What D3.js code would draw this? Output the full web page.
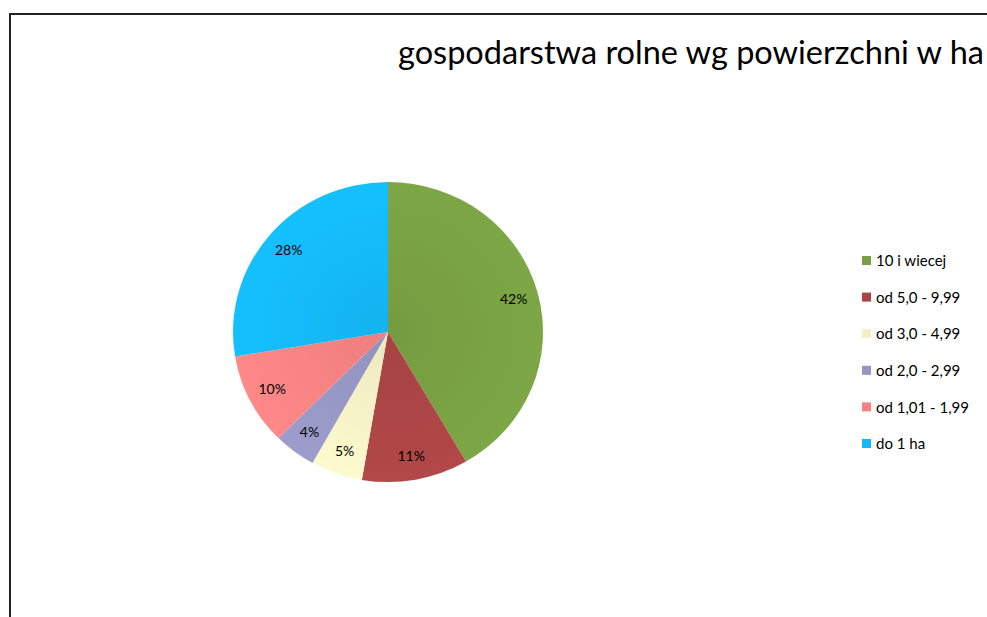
<!DOCTYPE html>
<meta charset="utf-8">
<html>
<head>
    <script src="https://d3js.org/d3.v7.min.js"></script>
    <style>
      body { margin: 0; background: #fff; }
      svg text { font-family: Lato, "Open Sans", sans-serif; fill: #000; }
    </style>
</head>
<body>
<div id="chart"></div>

<script>
    // data
    const categories = ["10 i wiecej", "od 5,0 - 9,99", "od 3,0 - 4,99", "od 2,0 - 2,99", "od 1,01 - 1,99", "do 1 ha"];
    const shares = [41.6, 11.1, 5.4, 4.4, 9.9, 27.6];
    const colors = ["#78a043", "#ab4545", "#f2f0c4", "#9696c4", "#f58282", "#14b8f5"];
    const title = "gospodarstwa rolne wg powierzchni w ha";

    const width = 987, height = 617;

    const svg = d3.select("#chart")
        .append("svg")
        .attr("width", width)
        .attr("height", height);

    // frame (cut off at right and bottom)
    svg.append("path")
        .attr("d", "M10,620 L10,14 L990,14")
        .attr("fill", "none")
        .attr("stroke", "#222")
        .attr("stroke-width", 2);

    svg.append("text")
        .attr("x", 398)
        .attr("y", 64)
        .style("font-size", "32.5px")
        .text(title);

    // soft gradients like the office chart
    const defs = svg.append("defs");
    colors.forEach((c, i) => {
        const g = defs.append("radialGradient")
            .attr("id", "grad" + i)
            .attr("gradientUnits", "userSpaceOnUse")
            .attr("cx", 0).attr("cy", 0).attr("r", 155);
        g.append("stop").attr("offset", "0%").attr("stop-color", d3.color(c).darker(0.08));
        g.append("stop").attr("offset", "100%").attr("stop-color", d3.color(c).brighter(0.12));
    });

    const radius = 155;
    const total = d3.sum(shares);

    const pie = d3.pie().sort(null).value(d => d);
    const arc = d3.arc().innerRadius(0).outerRadius(radius);
    const labelArc = d3.arc().innerRadius(radius * 0.84).outerRadius(radius * 0.84);

    const g = svg.append("g")
        .attr("transform", "translate(388,332) scale(1,0.968)");

    const arcs = pie(shares);

    g.selectAll("path.slice")
        .data(arcs)
        .enter()
        .append("path")
        .attr("class", "slice")
        .attr("d", arc)
        .attr("fill", (d, i) => "url(#grad" + i + ")");

    g.selectAll("text.lbl")
        .data(arcs)
        .enter()
        .append("text")
        .attr("class", "lbl")
        .attr("transform", d => {
            const [x, y] = labelArc.centroid(d);
            return `translate(${x},${y}) scale(1,${1 / 0.968})`;
        })
        .attr("text-anchor", "middle")
        .attr("dy", "0.35em")
        .style("font-size", "14px")
        .text(d => Math.round(d.data / total * 100) + "%");

    // legend
    const legend = svg.selectAll(".legend")
        .data(categories)
        .enter().append("g")
        .attr("class", "legend")
        .attr("transform", (d, i) => `translate(862,${261 + i * 36.6})`);

    legend.append("rect")
        .attr("x", 0)
        .attr("y", -5)
        .attr("width", 9)
        .attr("height", 9)
        .attr("fill", (d, i) => colors[i]);

    legend.append("text")
        .attr("x", 14)
        .attr("dy", "0.35em")
        .style("font-size", "15px")
        .text(d => d);
</script>
</body>
</html>
